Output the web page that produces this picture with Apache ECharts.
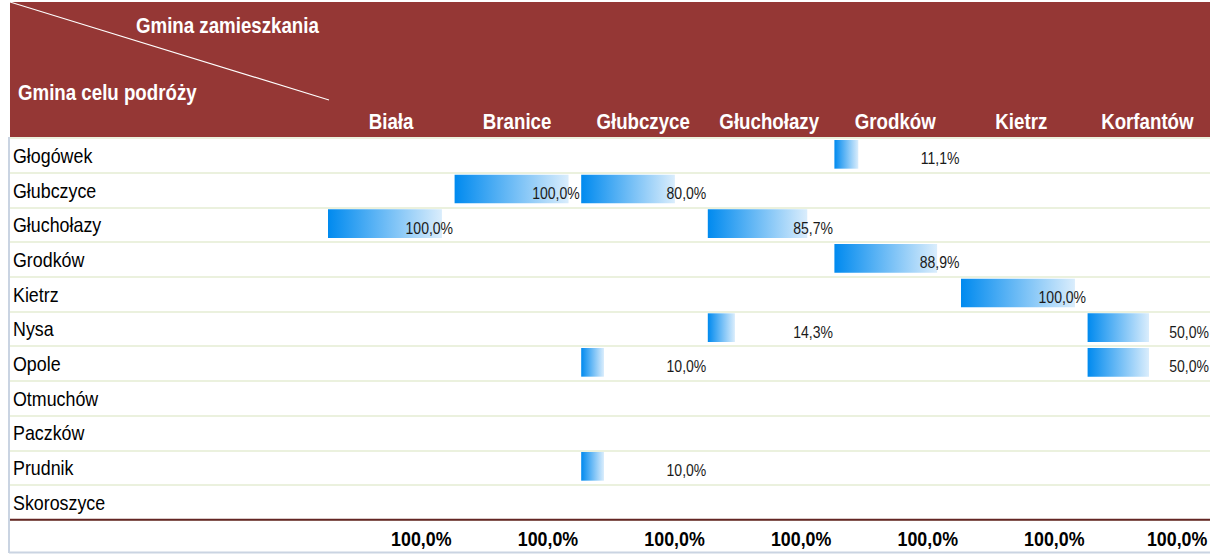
<!DOCTYPE html>
<html>
<head>
<meta charset="utf-8">
<script src="https://cdn.jsdelivr.net/npm/echarts@6/dist/echarts.min.js"></script>
<style>
html,body{margin:0;padding:0;background:#fff;overflow:hidden;width:1224px;height:554px;}
#clip{width:1210px;height:554px;overflow:hidden;}
#chart{height:554px;transform-origin:0 0;}
</style>
</head>
<body>
<div id="clip"><div id="chart"></div></div>
<script>
// ---- data ----
const headerTopLabel = 'Gmina zamieszkania';
const headerSideLabel = 'Gmina celu podróży';
const destinations = ['Głogówek','Głubczyce','Głuchołazy','Grodków','Kietrz','Nysa','Opole','Otmuchów','Paczków','Prudnik','Skoroszyce'];
const origins = ['Biała','Branice','Głubczyce','Głuchołazy','Grodków','Kietrz','Korfantów'];
const biala      = [null, null, 100,  null, null, null, null, null, null, null, null];
const branice    = [null, 100,  null, null, null, null, null, null, null, null, null];
const glubczyce  = [null, 80,   null, null, null, null, 10,   null, null, 10,   null];
const glucholazy = [null, null, 85.7, null, null, 14.3, null, null, null, null, null];
const grodkow    = [11.1, null, null, 88.9, null, null, null, null, null, null, null];
const kietrz     = [null, null, null, null, 100,  null, null, null, null, null, null];
const korfantow  = [null, null, null, null, null, 50,   50,   null, null, null, null];
const totals     = [100, 100, 100, 100, 100, 100, 100];
const columnValues = [biala, branice, glubczyce, glucholazy, grodkow, kietrz, korfantow];

// ---- layout / style ----
// the reference is a horizontally condensed spreadsheet screenshot: draw in an
// unscaled space and condense the whole drawing horizontally by SX.
const SX = 0.85;
const sx = v => v / SX;
const FONT = '"Liberation Sans",Arial,sans-serif';
const TABLE_LEFT = 10, LABEL_RIGHT = 328, COL_W = 126.6, TOP = 138, ROW_H = 34.7, RIGHT = 1210;
const NROWS = destinations.length;
// Excel data bar: min length 10% of cell, max length 90% of cell
const MIN_LEN = 10, MAX_LEN = 90;
const dataBarEnd = v => MIN_LEN + v * (MAX_LEN - MIN_LEN) / 100;
const fmt = v => v.toFixed(1).replace('.', ',') + '%';

const el = document.getElementById('chart');
el.style.width = Math.ceil(sx(RIGHT)) + 'px';
el.style.transform = 'scaleX(' + SX + ')';
const chart = echarts.init(el, null, {renderer: 'svg'});

const grids = [{left: sx(TABLE_LEFT), top: TOP, width: sx(RIGHT - TABLE_LEFT), height: NROWS * ROW_H}];
const xAxes = [{gridIndex: 0, type: 'value', min: 0, max: 1, show: false}];
const yAxes = [{
  gridIndex: 0, type: 'category', data: destinations, inverse: true,
  axisLine: {show: false}, axisTick: {show: false},
  splitLine: {show: true, lineStyle: {color: '#EBF1DE', width: 2}},
  axisLabel: {inside: true, align: 'left', margin: sx(3), fontSize: 21, color: '#000', fontFamily: FONT, padding: [2, 0, 0, 0]}
}];
const series = [];

origins.forEach((o, c) => {
  const gi = c + 1;
  grids.push({left: sx(LABEL_RIGHT + c * COL_W), top: TOP, width: sx(COL_W), height: (NROWS + 1) * ROW_H});
  xAxes.push({gridIndex: gi, type: 'value', min: 0, max: 100, show: false});
  yAxes.push({gridIndex: gi, type: 'category', data: destinations.concat(['']), inverse: true, show: false});
  const data = [];
  columnValues[c].forEach((v, r) => { if (v != null) data.push([v, r, 0]); });
  data.push([totals[c], NROWS, 1]);
  series.push({
    type: 'custom', name: o, xAxisIndex: gi, yAxisIndex: gi, clip: false,
    data: data,
    renderItem: function (params, api) {
      const v = api.value(0), row = api.value(1), kind = api.value(2);
      const p0 = api.coord([0, row]);
      const pR = api.coord([100, row]);
      const bandH = api.size([0, 1])[1];
      const cy = p0[1];
      if (kind === 1) {
        return {type: 'text', style: {text: fmt(v), x: pR[0] - sx(3), y: cy + 2, align: 'right', verticalAlign: 'middle',
          fontSize: 21, fontWeight: 'bold', fontFamily: FONT, fill: '#000'}};
      }
      const pE = api.coord([dataBarEnd(v), row]);
      return {type: 'group', children: [
        {type: 'rect', shape: {x: p0[0], y: cy - bandH / 2 + 2, width: pE[0] - p0[0], height: bandH - 6},
          style: {fill: new echarts.graphic.LinearGradient(0, 0, 1, 0, [{offset: 0, color: '#008AEF'}, {offset: 1, color: '#DAEDFC'}])}},
        {type: 'text', style: {text: fmt(v), x: pR[0] - sx(1.5), y: cy + 3, align: 'right', verticalAlign: 'middle',
          fontSize: 16.5, fontFamily: FONT, fill: '#1a1a1a'}}
      ]};
    }
  });
});

// header grid for column titles
grids.push({left: sx(LABEL_RIGHT), top: TOP, width: sx(COL_W * origins.length), height: NROWS * ROW_H});
xAxes.push({gridIndex: 8, type: 'category', data: origins, position: 'top',
  axisLine: {show: false}, axisTick: {show: false}, splitLine: {show: false},
  axisLabel: {interval: 0, color: '#fff', fontWeight: 'bold', fontSize: 22, fontFamily: FONT, margin: 6}});
yAxes.push({gridIndex: 8, type: 'value', show: false});

chart.setOption({
  animation: false,
  backgroundColor: '#fff',
  grid: grids,
  xAxis: xAxes,
  yAxis: yAxes,
  series: series,
  graphic: {elements: [
    {type: 'rect', z: -1, shape: {x: sx(TABLE_LEFT), y: 2, width: sx(RIGHT - TABLE_LEFT), height: 135}, style: {fill: '#953735'}},
    {type: 'line', z: 5, shape: {x1: sx(TABLE_LEFT), y1: 2, x2: sx(LABEL_RIGHT + 1), y2: 100}, style: {stroke: '#fff', lineWidth: 1.2}},
    {type: 'text', z: 5, style: {text: headerTopLabel, x: sx(136), y: 25, align: 'left', verticalAlign: 'middle',
      fontSize: 22, fontWeight: 'bold', fontFamily: FONT, fill: '#fff'}},
    {type: 'text', z: 5, style: {text: headerSideLabel, x: sx(18), y: 92, align: 'left', verticalAlign: 'middle',
      fontSize: 22, fontWeight: 'bold', fontFamily: FONT, fill: '#fff'}},
    {type: 'line', z: 20, shape: {x1: sx(TABLE_LEFT), y1: TOP + NROWS * ROW_H, x2: sx(RIGHT), y2: TOP + NROWS * ROW_H}, style: {stroke: '#632523', lineWidth: 2}},
    {type: 'line', z: 20, shape: {x1: sx(9), y1: 137, x2: sx(9), y2: 553}, style: {stroke: '#CAD4E2', lineWidth: 2 / SX}},
    {type: 'line', z: 20, shape: {x1: sx(9), y1: 552.5, x2: sx(RIGHT), y2: 552.5}, style: {stroke: '#CAD4E2', lineWidth: 2}}
  ]}
});
</script>
</body>
</html>
